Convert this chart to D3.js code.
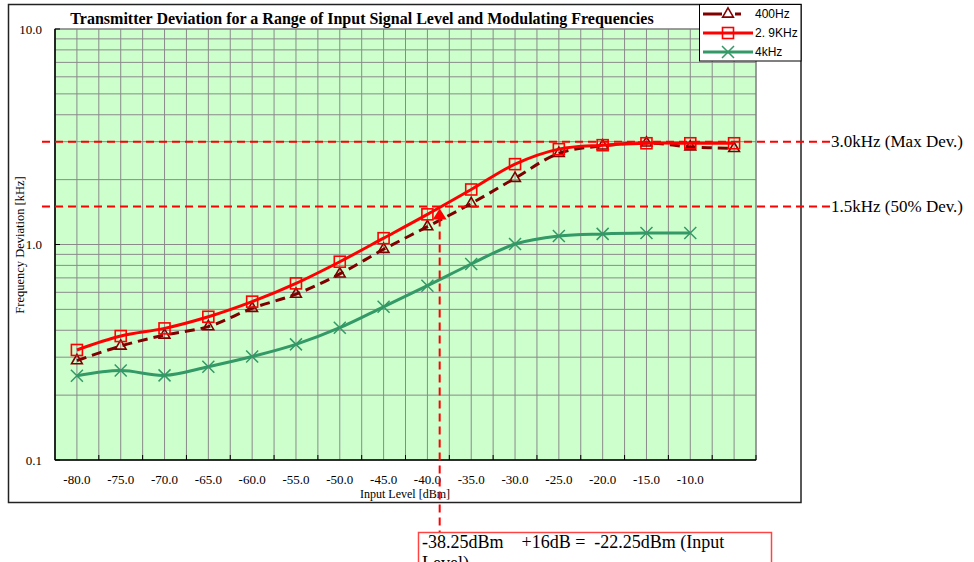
<!DOCTYPE html>
<html>
<head>
<meta charset="utf-8">
<script src="https://cdn.jsdelivr.net/npm/d3@7"></script>
<style>
body { margin: 0; background: #fff; }
text { font-family: "Liberation Serif", "Times New Roman", serif; fill: #000; }
</style>
</head>
<body>
<div id="chart"></div>
<script>
var width = 974,
    height = 562;

// data
var inputLevel = [-80, -75, -70, -65, -60, -55, -50, -45, -40, -35, -30, -25, -20, -15, -10, -5];
var levelLabels = ["-80.0", "-75.0", "-70.0", "-65.0", "-60.0", "-55.0", "-50.0", "-45.0",
                   "-40.0", "-35.0", "-30.0", "-25.0", "-20.0", "-15.0", "-10.0", ""];
var dev400 = [0.289, 0.338, 0.38, 0.416, 0.506, 0.588, 0.73, 0.95, 1.21, 1.55, 2.03, 2.65, 2.87, 2.96, 2.84, 2.79];
var dev2900 = [0.324, 0.376, 0.408, 0.462, 0.543, 0.66, 0.832, 1.07, 1.38, 1.80, 2.36, 2.77, 2.89, 2.95, 2.95, 2.95];
var dev4000 = [0.246, 0.26, 0.247, 0.271, 0.302, 0.344, 0.411, 0.514, 0.644, 0.812, 1.005, 1.095, 1.12, 1.13, 1.13];
var seriesNames = ["400Hz", "2. 9KHz", "4kHz"];
var yTickValues = [0.1, 1, 10];
var yTickLabels = ["0.1", "1.0", "10.0"];
var refValues = [3.0, 1.5];
var refLabels = ["3.0kHz (Max Dev.)", "1.5kHz (50% Dev.)"];
var markLevel = -38.6; // where the vertical marker sits
var noteLines = ["-38.25dBm    +16dB =  -22.25dBm (Input", "Level)"];

var plot = {left: 55, right: 756, top: 29, bottom: 460};

var x = d3.scaleLinear() // categories are 5 dB apart, half a step padding each side
          .domain([-82.5, -2.5])
          .range([plot.left, plot.right]);

var y = d3.scaleLog()
          .domain([0.1, 10])
          .range([plot.bottom, plot.top]);

var series = [
  {name: seriesNames[0], values: dev400, color: "#800000", dash: "10,6", marker: "triangle"},
  {name: seriesNames[1], values: dev2900, color: "#ff0000", dash: null, marker: "square"},
  {name: seriesNames[2], values: dev4000, color: "#339966", dash: null, marker: "cross"}
];

var svg = d3.select("#chart")
            .append("svg")
            .attr("width", width)
            .attr("height", height);

// chart frame
svg.append("rect")
   .attr("x", 8.5).attr("y", 4.5)
   .attr("width", 792.5).attr("height", 498)
   .attr("fill", "#fff")
   .attr("stroke", "#222")
   .attr("stroke-width", 1.5);

// plot background
svg.append("rect")
   .attr("x", plot.left).attr("y", plot.top)
   .attr("width", plot.right - plot.left).attr("height", plot.bottom - plot.top)
   .attr("fill", "#ccffcc");

// grid lines
var vGrid = d3.range(-82.5, -2.4, 2.5);
svg.append("g").selectAll("line")
   .data(vGrid)
   .enter().append("line")
   .attr("x1", d => x(d)).attr("x2", d => x(d))
   .attr("y1", plot.top).attr("y2", plot.bottom)
   .attr("stroke", "#8a8a8a").attr("stroke-width", 1);

var hGrid = [];
[0.1, 1].forEach(function (dec) {
  d3.range(2, 10).forEach(function (m) { hGrid.push(dec * m); });
});
hGrid.push(1, 10);
svg.append("g").selectAll("line")
   .data(hGrid)
   .enter().append("line")
   .attr("x1", plot.left).attr("x2", plot.right)
   .attr("y1", d => y(d)).attr("y2", d => y(d))
   .attr("stroke", "#8a8a8a").attr("stroke-width", 1);

// plot border and axes
svg.append("rect")
   .attr("x", plot.left).attr("y", plot.top)
   .attr("width", plot.right - plot.left).attr("height", plot.bottom - plot.top)
   .attr("fill", "none").attr("stroke", "#777").attr("stroke-width", 1);
svg.append("line")
   .attr("x1", plot.left).attr("x2", plot.left)
   .attr("y1", plot.top).attr("y2", plot.bottom)
   .attr("stroke", "#000").attr("stroke-width", 1.5);
svg.append("line")
   .attr("x1", plot.left).attr("x2", plot.right)
   .attr("y1", plot.bottom).attr("y2", plot.bottom)
   .attr("stroke", "#000").attr("stroke-width", 1.5);

// x tick marks at category boundaries
svg.append("g").selectAll("line")
   .data(d3.range(-77.5, -2.4, 5))
   .enter().append("line")
   .attr("x1", d => x(d)).attr("x2", d => x(d))
   .attr("y1", plot.bottom - 5).attr("y2", plot.bottom)
   .attr("stroke", "#000");

// y tick marks
svg.append("g").selectAll("line")
   .data(yTickValues)
   .enter().append("line")
   .attr("x1", plot.left).attr("x2", plot.left + 5)
   .attr("y1", d => y(d)).attr("y2", d => y(d))
   .attr("stroke", "#000");

// tick labels
svg.append("g").selectAll("text")
   .data(inputLevel)
   .enter().append("text")
   .attr("x", d => x(d))
   .attr("y", 479)
   .attr("text-anchor", "middle")
   .attr("dominant-baseline", "central")
   .style("font-size", "13px")
   .text((d, i) => levelLabels[i]);

svg.append("g").selectAll("text")
   .data(yTickValues)
   .enter().append("text")
   .attr("x", 42)
   .attr("y", d => y(d))
   .attr("text-anchor", "end")
   .attr("dominant-baseline", "central")
   .style("font-size", "13px")
   .text((d, i) => yTickLabels[i]);

// axis titles
svg.append("text")
   .attr("x", 405).attr("y", 494)
   .attr("text-anchor", "middle")
   .attr("dominant-baseline", "central")
   .style("font-size", "12px")
   .text("Input Level [dBm]");

svg.append("text")
   .attr("transform", "translate(20,245) rotate(-90)")
   .attr("text-anchor", "middle")
   .attr("dominant-baseline", "central")
   .style("font-size", "12.5px")
   .text("Frequency Deviation [kHz]");

// title
svg.append("text")
   .attr("x", 362).attr("y", 18)
   .attr("text-anchor", "middle")
   .attr("dominant-baseline", "central")
   .style("font-size", "16px")
   .style("font-weight", "bold")
   .text("Transmitter Deviation for a Range of Input Signal Level and Modulating Frequencies");

// series lines (smoothed like the original)
var line = d3.line()
             .x((d, i) => x(inputLevel[i]))
             .y(d => y(d))
             .curve(d3.curveCatmullRom);

function drawMarker(g, type, color) {
  if (type == "triangle") {
    g.append("path")
     .attr("d", d3.symbol(d3.symbolTriangle, 50)())
     .attr("fill", "none").attr("stroke", color).attr("stroke-width", 1.6);
  } else if (type == "square") {
    g.append("rect")
     .attr("x", -5.5).attr("y", -5.5).attr("width", 11).attr("height", 11)
     .attr("fill", "none").attr("stroke", color).attr("stroke-width", 1.6);
  } else {
    g.append("path")
     .attr("d", "M-6,-6L6,6M-6,6L6,-6")
     .attr("fill", "none").attr("stroke", color).attr("stroke-width", 1.5);
  }
}

series.forEach(function (s) {
  svg.append("path")
     .attr("d", line(s.values))
     .attr("fill", "none")
     .attr("stroke", s.color)
     .attr("stroke-width", 3)
     .attr("stroke-dasharray", s.dash);

  svg.append("g").selectAll("g")
     .data(s.values)
     .enter().append("g")
     .attr("transform", (d, i) => "translate(" + x(inputLevel[i]) + "," + y(d) + ")")
     .each(function () { drawMarker(d3.select(this), s.marker, s.color); });
});

// reference lines with labels
svg.append("g").selectAll("line")
   .data(refValues)
   .enter().append("line")
   .attr("x1", 42).attr("x2", 834)
   .attr("y1", d => y(d)).attr("y2", d => y(d))
   .attr("stroke", "#ff0000").attr("stroke-width", 2)
   .attr("stroke-dasharray", "8,5");

svg.append("g").selectAll("text")
   .data(refValues)
   .enter().append("text")
   .attr("x", 831)
   .attr("y", d => y(d))
   .attr("dominant-baseline", "central")
   .style("font-size", "17px")
   .text((d, i) => refLabels[i]);

// vertical marker with arrowhead
var mx = x(markLevel),
    my = y(refValues[1]);
svg.append("line")
   .attr("x1", mx).attr("x2", mx)
   .attr("y1", my + 12).attr("y2", 532)
   .attr("stroke", "#ff0000").attr("stroke-width", 2)
   .attr("stroke-dasharray", "8,5");
svg.append("path")
   .attr("d", "M" + mx + "," + (my + 2) + "L" + (mx + 7) + "," + (my + 13) + "L" + (mx - 7) + "," + (my + 13) + "Z")
   .attr("fill", "#ff0000");

// note box (its second line runs past the bottom edge, as in the original)
svg.append("rect")
   .attr("x", 418.5).attr("y", 532.5)
   .attr("width", 353).attr("height", 60)
   .attr("fill", "#fff")
   .attr("stroke", "#ff4444").attr("stroke-width", 1.5);
svg.append("g").selectAll("text")
   .data(noteLines)
   .enter().append("text")
   .attr("x", 422)
   .attr("y", (d, i) => 548 + i * 21)
   .attr("xml:space", "preserve")
   .style("white-space", "pre")
   .style("font-size", "18px")
   .text(d => d);

// legend
var legend = svg.append("g");
legend.append("rect")
      .attr("x", 699.5).attr("y", 4.5)
      .attr("width", 101.5).attr("height", 56.5)
      .attr("fill", "#fff").attr("stroke", "#000");

series.forEach(function (s, i) {
  var ly = 14 + i * 19;
  legend.append("line")
        .attr("x1", 703).attr("x2", 753)
        .attr("y1", ly).attr("y2", ly)
        .attr("stroke", s.color).attr("stroke-width", 3)
        .attr("stroke-dasharray", s.dash ? "19,13,6,20" : null);
  var m = legend.append("g").attr("transform", "translate(728," + ly + ")");
  if (s.marker == "triangle") {
    m.append("rect").attr("x", -6).attr("y", -6).attr("width", 12).attr("height", 12).attr("fill", "#fff");
  }
  drawMarker(m, s.marker, s.color);
  legend.append("text")
        .attr("x", 755).attr("y", ly)
        .attr("dominant-baseline", "central")
        .style("font-family", "'Liberation Sans', Arial, sans-serif")
        .style("font-size", "12px")
        .text(s.name);
});
</script>
</body>
</html>
